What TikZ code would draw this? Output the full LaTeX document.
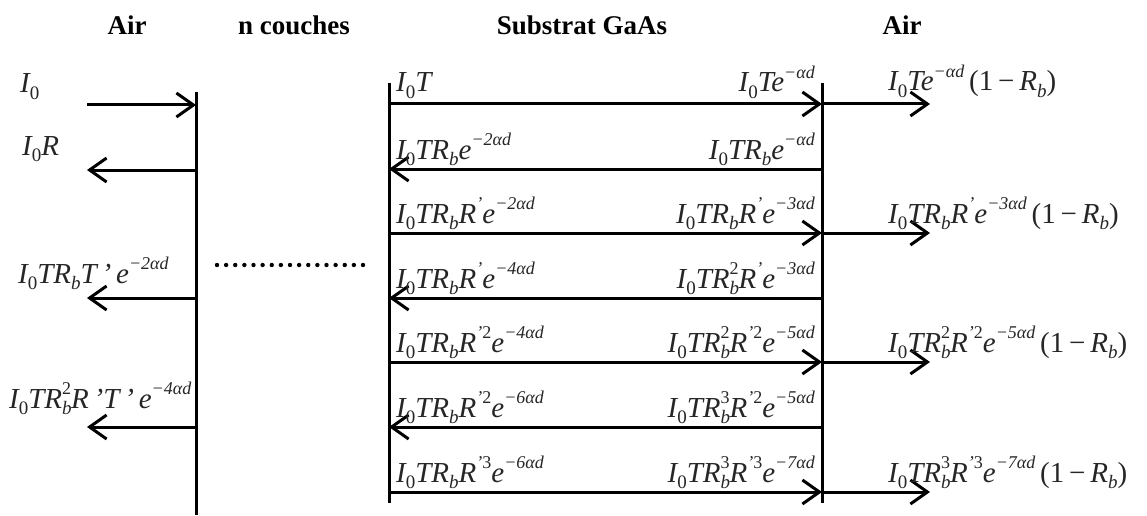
\documentclass[tikz,border=0pt]{standalone}
\usepackage{fontspec}
\setmainfont{Liberation Serif}
\usetikzlibrary{arrows.meta}
\newcommand\Sb[1]{\raisebox{-0.22em}{\fontsize{19}{19}\selectfont #1}}
\newcommand\Sp[1]{\raisebox{0.45em}{\fontsize{18}{18}\selectfont #1}}
\newcommand\SbSp[2]{\rlap{\Sb{#1}}\Sp{#2}}
\newcommand\Io{I\Sb{\upshape 0}}
\newcommand\Rb{R\Sb{b}}
\newcommand\Ob{\upshape(1\,−\,\itshape R\Sb{b}\upshape)}
\begin{document}
\begin{tikzpicture}[x=1pt,y=-1pt,
  iface/.style={line width=3pt,black},
  ray/.style={line width=3pt,black,-{Straight Barb[length=17pt,width=24pt,line width=3pt]}},
  lab/.style={inner sep=0pt,text=black!85,font=\fontsize{29}{33}\selectfont\itshape},
  head/.style={inner sep=0pt,font=\fontsize{27}{31}\selectfont\bfseries}]
\useasboundingbox (0,0) rectangle (1147,516);
% headers
\node[head] (hA) at (127,25) {Air};
\node[head] (hN) at (294,25) {n couches};
\node[head] (hS) at (582,25) {Substrat GaAs};
\node[head] (hB) at (902,25) {Air};
% interfaces
\coordinate (Lt) at (196,92); \coordinate (Lb) at (196,515);
\coordinate (Mt) at (389,83); \coordinate (Mb) at (389,503);
\coordinate (Rt) at (822,83); \coordinate (Rb) at (822,503);
\draw[iface] (Lt) -- (Lb);
\draw[iface] (Mt) -- (Mb);
\draw[iface] (Rt) -- (Rb);
% left air
\coordinate (a1) at (87,105); \coordinate (b1) at (196,105);
\coordinate (a2) at (87,170); \coordinate (b2) at (196,170);
\coordinate (a4) at (87,298); \coordinate (b4) at (196,298);
\coordinate (a6) at (87,427); \coordinate (b6) at (196,427);
\draw[ray] (a1) -- (b1);
\draw[ray] (b2) -- (a2);
\draw[ray] (b4) -- (a4);
\draw[ray] (b6) -- (a6);
\node[lab,anchor=base west] (l1) at (20,93) {\Io};
\node[lab,anchor=base west] (l2) at (22,155) {\Io R};
\node[lab,anchor=base west] (l4) at (18,283) {\Io T\Rb T\,'\,e\Sp{−2αd}};
\node[lab,anchor=base west] (l6) at (9,408) {\Io TR\SbSp{b}{\upshape 2}R\,'T\,'\,e\Sp{−4αd}};
% dotted layers
\foreach \i in {0,...,16} \fill (217+\i*9.125,265) circle (2.2pt);
% substrate rows
\foreach \r/\y in {1/104,2/169,3/233,4/298,5/362,6/427,7/492}{
  \coordinate (m\r) at (389,\y);
  \coordinate (r\r) at (822,\y);
  \coordinate (o\r) at (930,\y);
}
\draw[ray] (m1) -- (r1);
\draw[ray] (r2) -- (m2);
\draw[ray] (m3) -- (r3);
\draw[ray] (r4) -- (m4);
\draw[ray] (m5) -- (r5);
\draw[ray] (r6) -- (m6);
\draw[ray] (m7) -- (r7);
\draw[ray] (r1) -- (o1);
\draw[ray] (r3) -- (o3);
\draw[ray] (r5) -- (o5);
\draw[ray] (r7) -- (o7);
% substrate labels, left side
\node[lab,anchor=base west] (s1) at (396,92) {\Io T};
\node[lab,anchor=base west] (s2) at (396,159) {\Io T\Rb e\Sp{−2αd}};
\node[lab,anchor=base west] (s3) at (396,223) {\Io T\Rb R\Sp{'}e\Sp{−2αd}};
\node[lab,anchor=base west] (s4) at (396,288) {\Io T\Rb R\Sp{'}e\Sp{−4αd}};
\node[lab,anchor=base west] (s5) at (396,352) {\Io T\Rb R\Sp{'\upshape 2}e\Sp{−4αd}};
\node[lab,anchor=base west] (s6) at (396,417) {\Io T\Rb R\Sp{'\upshape 2}e\Sp{−6αd}};
\node[lab,anchor=base west] (s7) at (396,482) {\Io T\Rb R\Sp{'\upshape 3}e\Sp{−6αd}};
% substrate labels, right side
\node[lab,anchor=base east] (t1) at (815,92) {\Io Te\Sp{−αd}};
\node[lab,anchor=base east] (t2) at (815,159) {\Io T\Rb e\Sp{−αd}};
\node[lab,anchor=base east] (t3) at (815,223) {\Io T\Rb R\Sp{'}e\Sp{−3αd}};
\node[lab,anchor=base east] (t4) at (815,288) {\Io TR\SbSp{b}{\upshape 2}R\Sp{'}e\Sp{−3αd}};
\node[lab,anchor=base east] (t5) at (815,352) {\Io TR\SbSp{b}{\upshape 2}R\Sp{'\upshape 2}e\Sp{−5αd}};
\node[lab,anchor=base east] (t6) at (815,417) {\Io TR\SbSp{b}{\upshape 3}R\Sp{'\upshape 2}e\Sp{−5αd}};
\node[lab,anchor=base east] (t7) at (815,482) {\Io TR\SbSp{b}{\upshape 3}R\Sp{'\upshape 3}e\Sp{−7αd}};
% right air labels
\node[lab,anchor=base west] (u1) at (888,91) {\Io Te\Sp{−αd}\,\Ob};
\node[lab,anchor=base west] (u3) at (888,223) {\Io T\Rb R\Sp{'}e\Sp{−3αd}\,\Ob};
\node[lab,anchor=base west] (u5) at (888,352) {\Io TR\SbSp{b}{\upshape 2}R\Sp{'\upshape 2}e\Sp{−5αd}\,\Ob};
\node[lab,anchor=base west] (u7) at (888,482) {\Io TR\SbSp{b}{\upshape 3}R\Sp{'\upshape 3}e\Sp{−7αd}\,\Ob};
\end{tikzpicture}
\end{document}
